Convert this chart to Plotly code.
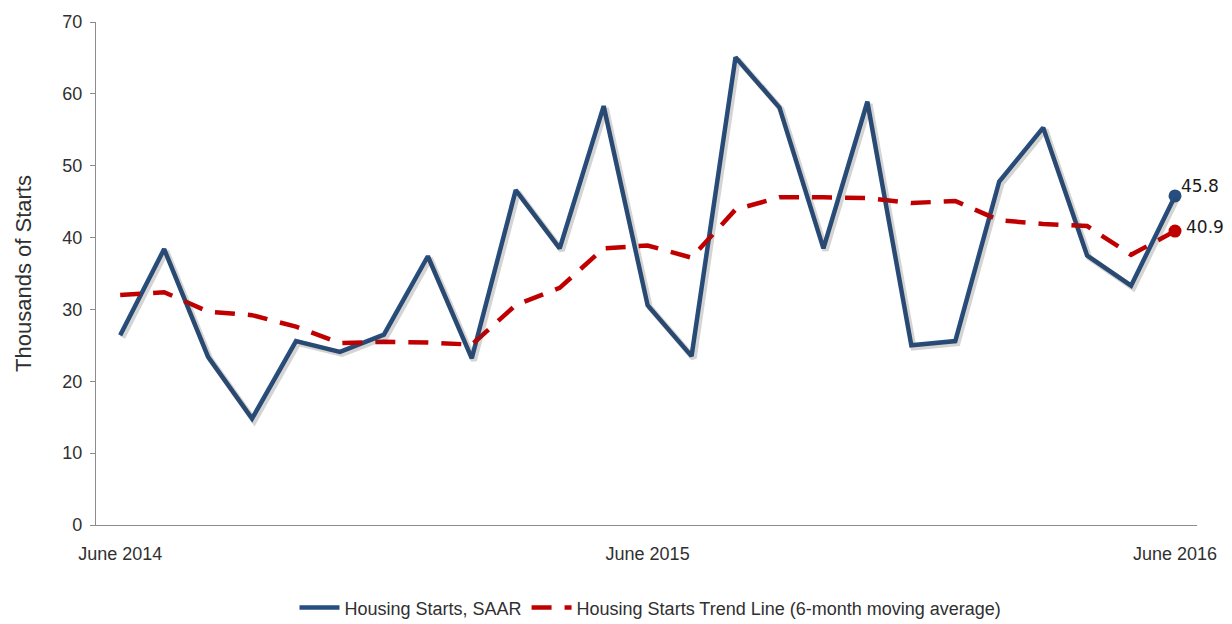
import plotly.graph_objects as go

months = ["Jun 2014", "Jul 2014", "Aug 2014", "Sep 2014", "Oct 2014", "Nov 2014",
          "Dec 2014", "Jan 2015", "Feb 2015", "Mar 2015", "Apr 2015", "May 2015",
          "Jun 2015", "Jul 2015", "Aug 2015", "Sep 2015", "Oct 2015", "Nov 2015",
          "Dec 2015", "Jan 2016", "Feb 2016", "Mar 2016", "Apr 2016", "May 2016",
          "Jun 2016"]

starts_saar = [26.4, 38.4, 23.4, 14.8, 25.6, 24.1, 26.5, 37.4, 23.2, 46.6, 38.5, 58.3,
               30.6, 23.5, 65.1, 58.1, 38.5, 58.9, 25.0, 25.6, 47.8, 55.3, 37.5, 33.3,
               45.8]

trend_6m = [32.0, 32.4, 29.7, 29.2, 27.6, 25.3, 25.5, 25.4, 25.1, 30.6, 33.0, 38.5,
            38.9, 37.2, 43.9, 45.6, 45.6, 45.5, 44.8, 45.1, 42.4, 41.9, 41.6, 37.6,
            40.9]

tick_vals = ["Jun 2014", "Jun 2015", "Jun 2016"]
tick_text = ["June 2014", "June 2015", "June 2016"]
y_ticks = [0, 10, 20, 30, 40, 50, 60, 70]

BLUE = "#264E80"
RED = "#C00000"
TXT = "#303030"
AXIS = "#8c8c8c"
FONT = "Liberation Sans, Arial, sans-serif"

X_RANGE = [-0.55, 24.5]
Y_RANGE = [0, 70]
# soft drop shadow under the blue line: same data on an overlay axis offset ~2px
SH_DX = 0.05
SH_DY = 0.3

fig = go.Figure()

fig.add_trace(go.Scatter(
    x=months, y=starts_saar, mode="lines", showlegend=False, hoverinfo="skip",
    line=dict(color="rgba(60,60,60,0.22)", width=6), xaxis="x2", yaxis="y2"))

fig.add_trace(go.Scatter(
    x=months, y=starts_saar, mode="lines", name="Housing Starts, SAAR",
    line=dict(color=BLUE, width=4.5), hoverinfo="x+y"))

fig.add_trace(go.Scatter(
    x=months, y=trend_6m, mode="lines",
    name="Housing Starts Trend Line (6-month moving average)",
    line=dict(color=RED, width=4.5, dash="20px,13px"), hoverinfo="x+y"))

fig.add_trace(go.Scatter(
    x=[months[-1]], y=[starts_saar[-1]], mode="markers", showlegend=False,
    marker=dict(color=BLUE, size=13), hoverinfo="x+y"))

fig.add_trace(go.Scatter(
    x=[months[-1]], y=[trend_6m[-1]], mode="markers", showlegend=False,
    marker=dict(color=RED, size=13), hoverinfo="x+y"))

fig.add_annotation(x=months[-1], y=starts_saar[-1], text=f"{starts_saar[-1]:.1f}",
                   showarrow=False, xanchor="left", yanchor="middle",
                   xshift=4, yshift=10,
                   font=dict(family="DejaVu Sans, sans-serif", size=17, color="#1a1a1a"))
fig.add_annotation(x=months[-1], y=trend_6m[-1], text=f"{trend_6m[-1]:.1f}",
                   showarrow=False, xanchor="left", yanchor="middle",
                   xshift=9, yshift=4,
                   font=dict(family="DejaVu Sans, sans-serif", size=17, color="#1a1a1a"))

fig.update_layout(
    width=1232, height=624,
    margin=dict(l=96, r=35, t=18, b=99),
    paper_bgcolor="white", plot_bgcolor="white",
    font=dict(family=FONT, size=18, color=TXT),
    showlegend=True,
    legend=dict(orientation="h", xref="container", yref="container",
                x=0.528, xanchor="center", y=0.026, yanchor="middle",
                font=dict(family=FONT, size=18, color=TXT),
                itemwidth=40, bgcolor="rgba(0,0,0,0)"),
    xaxis=dict(type="category", categoryorder="array", categoryarray=months,
               range=X_RANGE, tickmode="array", tickvals=tick_vals,
               ticktext=tick_text, showgrid=False, zeroline=False,
               showline=True, linecolor=AXIS, linewidth=1.3,
               ticks="", ticklabelstandoff=12,
               tickfont=dict(family=FONT, size=18, color=TXT)),
    yaxis=dict(range=Y_RANGE, tickmode="array", tickvals=y_ticks,
               showgrid=False, zeroline=False, showline=True,
               linecolor=AXIS, linewidth=1.3, ticks="outside",
               ticklen=5, tickcolor=AXIS, tickwidth=1.3, ticklabelstandoff=4,
               tickfont=dict(family=FONT, size=18, color=TXT),
               title=dict(text="Thousands of Starts", standoff=24,
                          font=dict(family=FONT, size=22, color=TXT))),
    xaxis2=dict(type="category", categoryorder="array", categoryarray=months,
                overlaying="x", range=[X_RANGE[0] - SH_DX, X_RANGE[1] - SH_DX],
                visible=False),
    yaxis2=dict(overlaying="y", range=[Y_RANGE[0] + SH_DY, Y_RANGE[1] + SH_DY],
                visible=False),
)

fig.write_html(
    "out.html",
    config={"displayModeBar": False},
    post_script="document.body.style.margin='0';document.body.style.overflow='hidden';",
)
